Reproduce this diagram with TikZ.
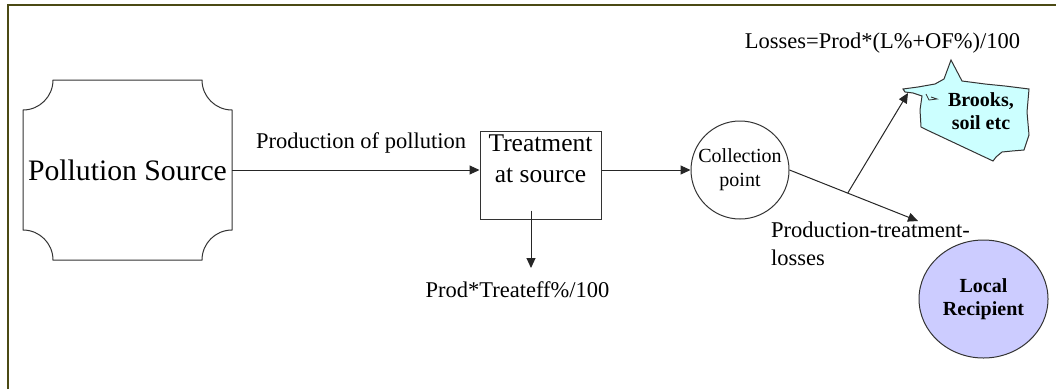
\documentclass[tikz,border=0pt]{standalone}
\usepackage{fontspec}
\setmainfont{Liberation Serif}
\usetikzlibrary{arrows.meta,shapes.geometric,calc}
\definecolor{frameol}{HTML}{4B4A14}
\definecolor{brookfill}{HTML}{CCFFFF}
\definecolor{recipfill}{HTML}{CCCCFF}
\begin{document}
\begin{tikzpicture}[x=1pt,y=-1pt,
  conn/.style={line width=1pt, draw=black!85},
  arr/.style={conn, -{Triangle[length=10pt,width=9pt]}},
  lbl/.style={font=\fontsize{22.5}{28}\selectfont, inner sep=0pt},
  outl/.style={line width=1pt, draw=black!80}]
\useasboundingbox (0,0) rectangle (1056,389);
\fill[white] (0,0) rectangle (1056,389);
\draw[frameol, line width=1.8pt] (8,389) -- (8,5) -- (1056,5);

% Pollution source (plaque shape)
\node[minimum width=209pt, minimum height=180pt, inner sep=0pt, font=\fontsize{29.7}{32}\selectfont] (src) at (127.5,170) {Pollution Source};
\draw[outl] (53,80) -- (202,80) .. controls (202,96.57) and (215.43,110) .. (232,110) -- (232,230) .. controls (215.43,230) and (202,243.43) .. (202,260) -- (53,260) .. controls (53,243.43) and (39.57,230) .. (23,230) -- (23,110) .. controls (39.57,110) and (53,96.57) .. (53,80) -- cycle;

% Treatment box
\node[draw, outl, minimum width=121pt, minimum height=88pt, inner sep=0pt, align=center, font=\fontsize{25.5}{31}\selectfont, text depth=32pt] (treat) at (540.5,175) {Treatment\\at source};

% Collection point
\node[circle, draw, outl, minimum size=98pt, inner sep=0pt, align=center, font=\fontsize{20}{24}\selectfont] (coll) at (740,170) {Collection\\point};

% Local recipient
\node[ellipse, draw, outl, fill=recipfill, minimum width=129pt, minimum height=118pt, inner sep=0pt, align=center, font=\bfseries\fontsize{20}{23}\selectfont] (recip) at (983.5,299) {Local\\Recipient};

% Brooks, soil etc (irregular shape)
\draw[outl, fill=brookfill] (951,60) -- (962,81) -- (985,84) -- (1005,86) -- (1029,89) -- (1027,112) -- (1029,135) -- (1024,150) -- (1012,151) -- (1002,152) -- (996,157) -- (993,161) -- (927,130) -- (921,127) -- (920,110) -- (922,96) -- (913,93) -- (905,92) -- (903,89) -- (918,87) -- (935,84) -- (944,79) -- cycle;
\draw[outl, line width=0.8pt] (926,94) -- (929,100) -- (937,99) -- (931,97);
\node[align=center, inner sep=0pt, font=\bfseries\fontsize{20}{23}\selectfont] (brooks) at (981,111) {Brooks,\\soil etc};

% Connectors
\draw[arr] (src.east) -- (src.east -| treat.west);
\draw[arr] (coll.west -| treat.east) -- (coll.west);
\coordinate (tipT) at (531,268);
\draw[arr] ([xshift=-9.5pt,yshift=9pt]treat.south) -- (tipT);
\coordinate (tipL) at (918,221);
\draw[arr] (coll.east) -- coordinate[pos=0.453] (br) (tipL);
\coordinate (bk) at (908,93);
\draw[arr] (br) -- (bk);

% Labels
\node[lbl, anchor=base] (lprod) at (361,148) {Production of pollution};
\node[lbl, anchor=base] (ltreat) at (517.5,297) {Prod*Treateff\%/100};
\node[lbl, anchor=base] (lloss) at (882.5,48) {Losses=Prod*(L\%+OF\%)/100};
\node[lbl, anchor=base west, align=left] (lptl) at (771,265) {Production-treatment-\\losses};
\end{tikzpicture}
\end{document}
